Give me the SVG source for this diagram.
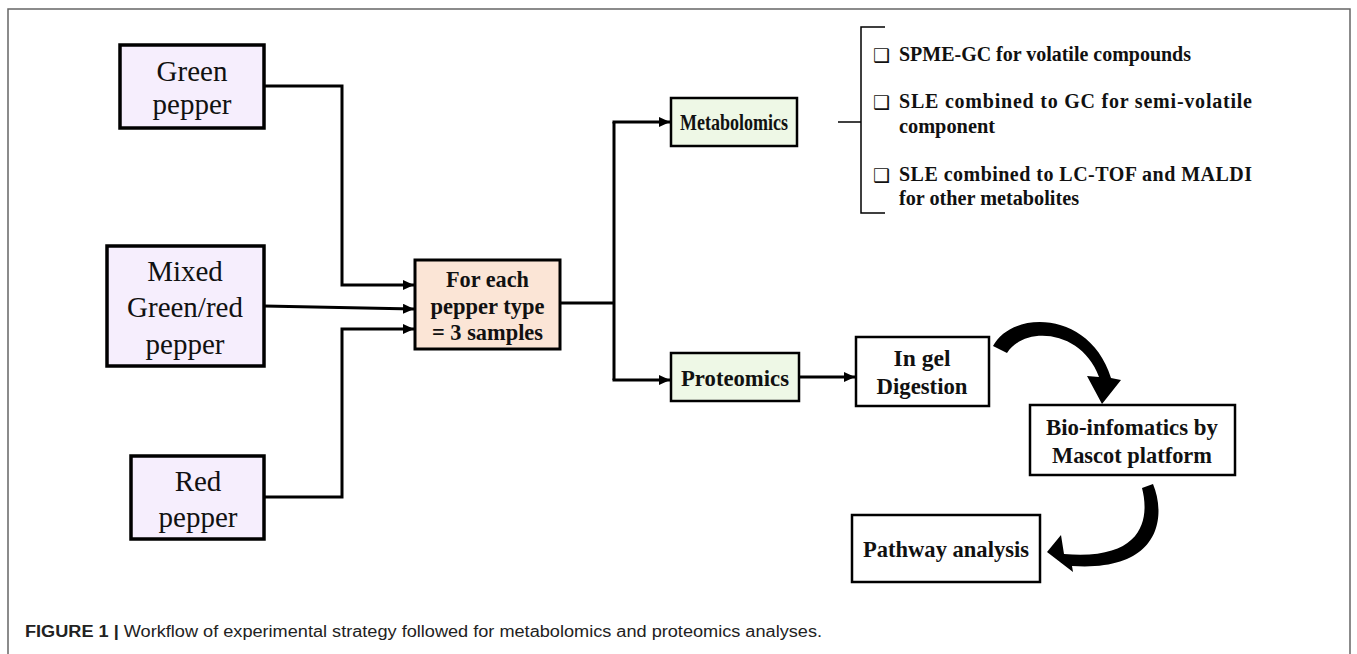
<svg xmlns="http://www.w3.org/2000/svg" width="1357" height="654" viewBox="0 0 1357 654">
<defs>
<style>
.frame{fill:none;stroke:#666;stroke-width:1.5}
.pep{fill:#f6eefd;stroke:#000;stroke-width:3.5}
.each{fill:#fbe5d6;stroke:#000;stroke-width:3}
.omic{fill:#eef8e6;stroke:#000;stroke-width:2.5}
.plain{fill:#fff;stroke:#000;stroke-width:2.5}
.conn{fill:none;stroke:#000;stroke-width:3}
.thin{fill:none;stroke:#000;stroke-width:1.5}
.t-pep{font-family:"Liberation Serif","Times New Roman",serif;font-size:29px;text-anchor:middle;fill:#111}
.t-b{font-family:"Liberation Serif","Times New Roman",serif;font-weight:bold;font-size:23px;text-anchor:middle;fill:#111}
.t-list{font-family:"Liberation Serif","Times New Roman",serif;font-weight:bold;font-size:20px;fill:#111}
.t-box{font-family:"DejaVu Sans",sans-serif;font-size:19px;fill:#111}
.cap{font-family:"Liberation Sans",Arial,sans-serif;font-size:16px;fill:#222}
</style>
<marker id="ah" markerUnits="userSpaceOnUse" markerWidth="11" markerHeight="10" refX="11" refY="5" orient="auto">
<path d="M0,0 L11,5 L0,10 z" fill="#000"/>
</marker>
</defs>
<rect width="1357" height="654" fill="#fff"/>
<path class="frame" d="M8,654 V9 H1350 V654"/>

<g id="connectors">
<path class="conn" d="M264,86 H342 V285 H414" marker-end="url(#ah)"/>
<path class="conn" d="M264,306 L414,309" marker-end="url(#ah)"/>
<path class="conn" d="M264,497 H342 V329 H414" marker-end="url(#ah)"/>
<path class="conn" d="M560,303 H614"/>
<path class="conn" d="M614,122 V380"/>
<path class="conn" d="M612.5,122 H670" marker-end="url(#ah)"/>
<path class="conn" d="M612.5,380 H670" marker-end="url(#ah)"/>
<path class="conn" d="M799,377 H855" marker-end="url(#ah)"/>
<path class="thin" d="M838,122 H861"/>
<path class="thin" d="M885,27 H861 V213 H885"/>
<path d="M993,346 C1012,310 1090,310 1111,378 L1121,380 L1102,404 L1087,376 L1099,377 C1082,330 1025,325 1007,353 Z" fill="#000"/>
<path d="M1153,484 C1166,515 1162,572 1072,566 L1073,572 L1047,552 L1061,535 L1064,554 C1147,561 1149,515 1142,488 Z" fill="#000"/>
</g>

<g id="green">
<rect class="pep" x="120" y="45" width="144" height="83"/>
<text class="t-pep" x="192" y="81">Green</text>
<text class="t-pep" x="192" y="114">pepper</text>
</g>
<g id="mixed">
<rect class="pep" x="107" y="246" width="157" height="120"/>
<text class="t-pep" x="185" y="281">Mixed</text>
<text class="t-pep" x="185" y="317">Green/red</text>
<text class="t-pep" x="185" y="354">pepper</text>
</g>
<g id="red">
<rect class="pep" x="131" y="456" width="133" height="83"/>
<text class="t-pep" x="198" y="491">Red</text>
<text class="t-pep" x="198" y="527">pepper</text>
</g>
<g id="foreach">
<rect class="each" x="415" y="260" width="145" height="89"/>
<text class="t-b" x="487.5" y="287" textLength="83" lengthAdjust="spacingAndGlyphs">For each</text>
<text class="t-b" x="487.5" y="314" textLength="114" lengthAdjust="spacingAndGlyphs">pepper type</text>
<text class="t-b" x="487.5" y="340" textLength="111" lengthAdjust="spacingAndGlyphs">= 3 samples</text>
</g>
<g id="metabolomics">
<rect class="omic" x="671" y="98" width="126" height="48"/>
<text class="t-b" x="734" y="130" textLength="108" lengthAdjust="spacingAndGlyphs">Metabolomics</text>
</g>
<g id="methods">
<text class="t-box" x="873" y="62">❑</text>
<text class="t-list" x="899" y="61" textLength="292" lengthAdjust="spacingAndGlyphs">SPME-GC for volatile compounds</text>
<text class="t-box" x="873" y="109">❑</text>
<text class="t-list" x="899" y="108" textLength="353" lengthAdjust="spacing">SLE combined to GC for semi-volatile</text>
<text class="t-list" x="899" y="133" textLength="96" lengthAdjust="spacingAndGlyphs">component</text>
<text class="t-box" x="873" y="182">❑</text>
<text class="t-list" x="899" y="181" textLength="353" lengthAdjust="spacing">SLE combined to LC-TOF and MALDI</text>
<text class="t-list" x="899" y="205" textLength="180" lengthAdjust="spacingAndGlyphs">for other metabolites</text>
</g>
<g id="proteomics">
<rect class="omic" x="671" y="353" width="128" height="48"/>
<text class="t-b" x="735" y="386" textLength="108" lengthAdjust="spacingAndGlyphs">Proteomics</text>
</g>
<g id="ingel">
<rect class="plain" x="856" y="337" width="133" height="69"/>
<text class="t-b" x="922" y="366" textLength="57" lengthAdjust="spacingAndGlyphs">In gel</text>
<text class="t-b" x="922" y="394" textLength="91" lengthAdjust="spacingAndGlyphs">Digestion</text>
</g>
<g id="bioinfo">
<rect class="plain" x="1030" y="405" width="205" height="70"/>
<text class="t-b" x="1132" y="435" textLength="172" lengthAdjust="spacingAndGlyphs">Bio-infomatics by</text>
<text class="t-b" x="1132" y="463" textLength="160" lengthAdjust="spacingAndGlyphs">Mascot platform</text>
</g>
<g id="pathway">
<rect class="plain" x="852" y="515" width="188" height="67"/>
<text class="t-b" x="946" y="557" textLength="166" lengthAdjust="spacingAndGlyphs">Pathway analysis</text>
</g>

<text class="cap" x="25" y="637" textLength="797" lengthAdjust="spacingAndGlyphs"><tspan font-weight="bold">FIGURE 1 |</tspan> Workflow of experimental strategy followed for metabolomics and proteomics analyses.</text>
</svg>
